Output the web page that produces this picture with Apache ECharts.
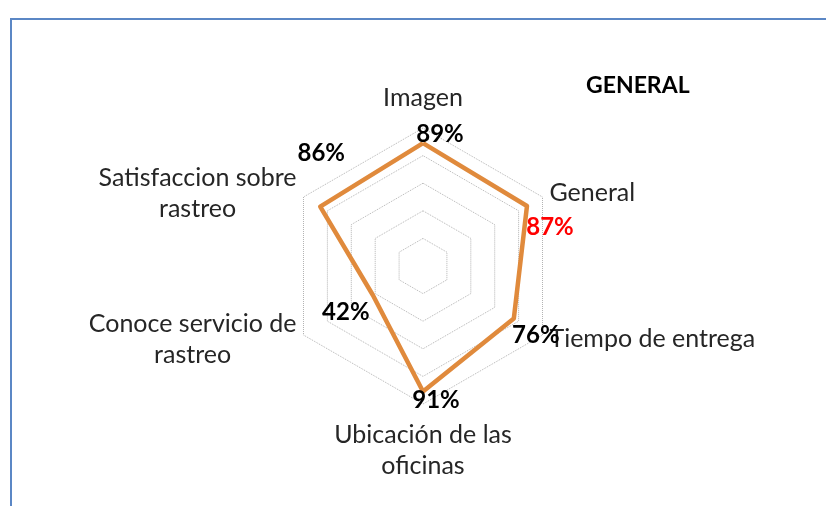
<!DOCTYPE html>
<html>
<head>
<meta charset="utf-8">
<script src="https://cdn.jsdelivr.net/npm/echarts@6/dist/echarts.min.js"></script>
<style>
  html, body { margin: 0; padding: 0; background: #fff; overflow: hidden; }
  #frame {
    position: absolute; left: 10px; top: 18px; width: 900px; height: 600px;
    border-top: 2px solid #5b87c5; border-left: 2px solid #5b87c5;
  }
  #chart { position: absolute; left: 0; top: 0; width: 826px; height: 506px; }
</style>
</head>
<body>
<div id="frame"></div>
<div id="chart"></div>
<script>
// indicadores en el orden de ECharts (antihorario desde arriba)
const categories = [
  "Imagen",
  "Satisfaccion sobre\nrastreo",
  "Conoce servicio de\nrastreo",
  "Ubicación de las\noficinas",
  "Tiempo de entrega",
  "General",
];
const values = [89, 86, 42, 91, 76, 87];
const maxValue = 100;

// posicion de cada etiqueta de valor respecto a su punto
const labelOffsets = [[17, -9], [1, -53], [-27, 17], [13, 9], [22, 17], [23, 21]];
const labelColors = ["#000", "#000", "#000", "#000", "#000", "#ff0000"];

const chart = echarts.init(document.getElementById("chart"));

// una serie invisible por punto, solo para poner cada etiqueta donde va
const labelData = values.map((v, i) => ({
  value: values.map((_, j) => (j === i ? v : 0)),
  label: { offset: labelOffsets[i], color: labelColors[i] },
}));

const nameFont = { fontFamily: "Lato", fontSize: 25, lineHeight: 31, color: "#262626" };

chart.setOption({
  animation: false,
  title: {
    text: "GENERAL",
    left: 581,
    top: 69,
    textStyle: { fontFamily: "Lato", fontWeight: "bold", fontSize: 23, color: "#000" },
  },
  radar: {
    center: [423, 266],
    radius: 138,
    startAngle: 90,
    shape: "polygon",
    splitNumber: 5,
    nameGap: 8,
    indicator: categories.map((name) => ({ name: name, max: maxValue, min: 0 })),
    axisName: {
      ...nameFont,
      padding: [7, 0, 7, 0],
      // cada linea centrada dentro de su bloque
      formatter: (name) => name.split("\n").map((s) => "{c|" + s + "}").join("\n"),
      rich: { c: { ...nameFont, align: "center" } },
    },
    axisLine: { show: false },
    axisTick: { show: false },
    axisLabel: { show: false },
    splitArea: { show: false },
    splitLine: { lineStyle: { color: "#b3b3b3", type: "dotted", width: 1 } },
  },
  series: [
    {
      type: "radar",
      symbol: "none",
      lineStyle: { color: "#e08a3c", width: 4.5 },
      data: [{ value: values }],
    },
    {
      type: "radar",
      symbol: "circle",
      symbolSize: 1,
      itemStyle: { color: "transparent" },
      lineStyle: { opacity: 0, width: 0 },
      label: {
        show: true,
        position: "inside",
        fontFamily: "Lato",
        fontWeight: "bold",
        fontSize: 24,
        formatter: (p) => (p.value > 0 ? p.value + "%" : ""),
      },
      data: labelData,
    },
  ],
});
</script>
</body>
</html>
